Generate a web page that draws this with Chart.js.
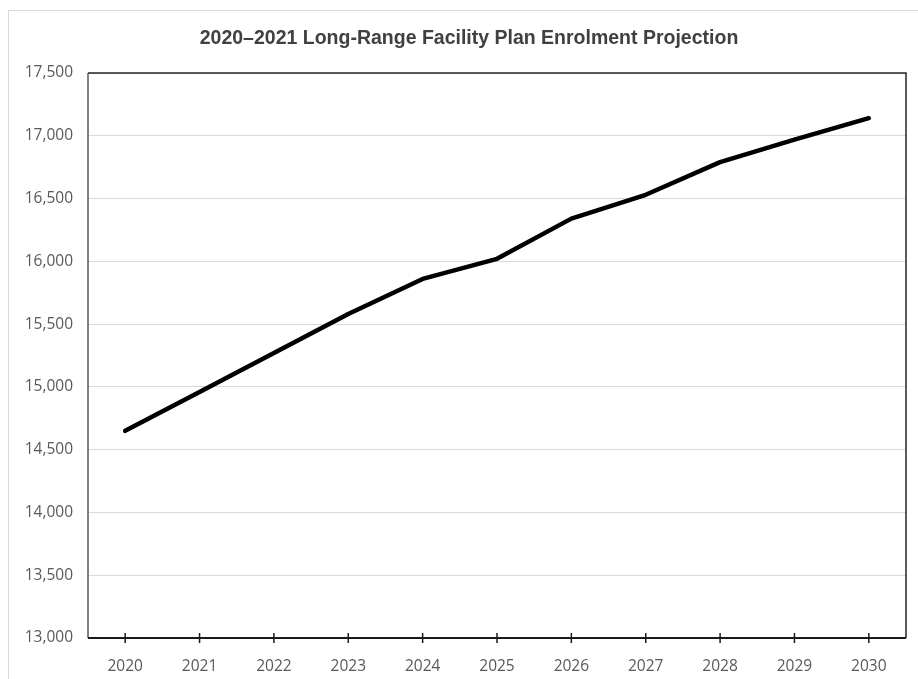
<!DOCTYPE html>
<html>
<head>
<meta charset="utf-8">
<script src="https://cdn.jsdelivr.net/npm/chart.js@4.4.1/dist/chart.umd.min.js"></script>
<style>
    body { margin: 0; background: #fff; overflow: hidden; }
    #wrap { position: relative; width: 918px; height: 679px; }
    #frame { position: absolute; left: 8px; top: 10px; width: 940px; height: 720px; border: 1px solid #d9d9d9; }
    canvas { position: absolute; left: 0; top: 0; }
</style>
</head>
<body>
<div id="wrap">
    <div id="frame"></div>
    <canvas id="enrolChart" width="918" height="679"></canvas>
</div>
<script>
const years = ["2020", "2021", "2022", "2023", "2024", "2025", "2026", "2027", "2028", "2029", "2030"];
const enrolment = [14650, 14960, 15270, 15580, 15860, 16020, 16340, 16530, 16790, 16970, 17140];
const yMin = 13000;
const yMax = 17500;
const yStep = 500;
const chartTitle = "2020\u20132021 Long-Range Facility Plan Enrolment Projection";

// draws the title, the box round the plot and the little tick crosses on the x axis
const plotFrame = {
    id: "plotFrame",
    afterDraw(chart) {
        let ctx = chart.ctx;
        let a = chart.chartArea;
        let xScale = chart.scales.x;
        ctx.save();
        ctx.fillStyle = "#404040";
        ctx.font = "bold 19.5px 'Liberation Sans', Arial, sans-serif";
        ctx.textAlign = "center";
        ctx.textBaseline = "middle";
        ctx.fillText(chartTitle, 469, 39);

        ctx.lineWidth = 1.5;
        ctx.strokeStyle = "#595959";
        ctx.beginPath();
        ctx.moveTo(a.left, a.top);
        ctx.lineTo(a.left, a.bottom);
        ctx.stroke();
        ctx.strokeStyle = "#262626";
        ctx.beginPath();
        ctx.moveTo(a.left, a.top);
        ctx.lineTo(a.right, a.top);
        ctx.lineTo(a.right, a.bottom);
        ctx.stroke();
        ctx.lineWidth = 2;
        ctx.strokeStyle = "#1a1a1a";
        ctx.beginPath();
        ctx.moveTo(a.left, a.bottom);
        ctx.lineTo(a.right, a.bottom);
        ctx.stroke();
        ctx.lineWidth = 1.5;
        xScale.ticks.forEach((t, i) => {
            let x = xScale.getPixelForTick(i);
            ctx.beginPath();
            ctx.moveTo(x, a.bottom - 5);
            ctx.lineTo(x, a.bottom + 5);
            ctx.stroke();
        });
        ctx.restore();
    }
};

const tickFont = { family: "'Open Sans', sans-serif", size: 15.5 };

const ctx = document.getElementById("enrolChart").getContext("2d");
new Chart(ctx, {
    type: "line",
    data: {
        labels: years,
        datasets: [{
            label: "Enrolment",
            data: enrolment,
            borderColor: "#000000",
            borderWidth: 4.5,
            borderCapStyle: "round",
            borderJoinStyle: "round",
            pointRadius: 0,
            tension: 0,
        }]
    },
    options: {
        responsive: false,
        animation: false,
        layout: { padding: { top: 73, right: 12, bottom: 0, left: 0 } },
        scales: {
            x: {
                offset: true,
                grid: { display: false },
                border: { display: false },
                ticks: {
                    color: "#595959",
                    font: tickFont,
                    padding: 11,
                    maxRotation: 0,
                },
                afterFit: (scale) => { scale.height = 41; }
            },
            y: {
                min: yMin,
                max: yMax,
                grid: { color: "#d9d9d9", lineWidth: 1, drawTicks: false },
                border: { display: false },
                ticks: {
                    stepSize: yStep,
                    color: "#595959",
                    padding: 15,
                    font: tickFont,
                    callback: (v) => v.toLocaleString("en-US"),
                },
                afterFit: (scale) => { scale.width = 88; }
            }
        },
        plugins: {
            legend: { display: false },
            tooltip: { enabled: false },
            title: { display: false }
        }
    },
    plugins: [plotFrame]
});
</script>
</body>
</html>
